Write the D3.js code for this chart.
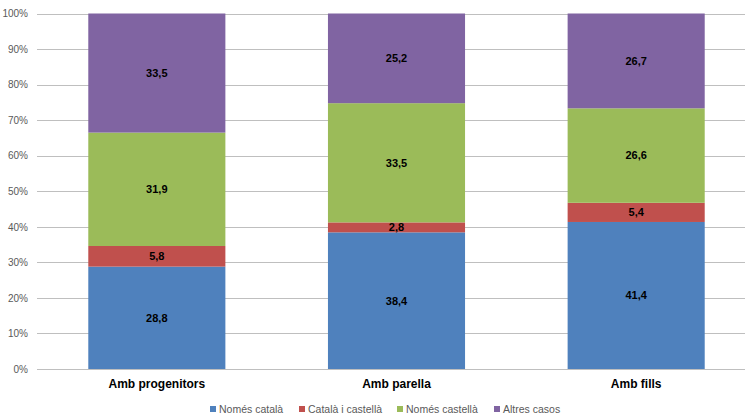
<!DOCTYPE html>
<html><head><meta charset="utf-8">
<script src="https://cdn.jsdelivr.net/npm/d3@7"></script>
<style>body{margin:0;background:#fff}svg{display:block}</style>
</head><body>
<script>
const categories = ["Amb progenitors", "Amb parella", "Amb fills"];
const seriesNames = ["Només català", "Català i castellà", "Només castellà", "Altres casos"];
const nomesCatala = [28.8, 38.4, 41.4];
const catalaCastella = [5.8, 2.8, 5.4];
const nomesCastella = [31.9, 33.5, 26.6];
const altresCasos = [33.5, 25.2, 26.7];
const yTicks = [0, 0.1, 0.2, 0.3, 0.4, 0.5, 0.6, 0.7, 0.8, 0.9, 1];
const colors = ["#4F81BD", "#C0504D", "#9BBB59", "#8064A2"];

const W = 745, H = 415;
const svg = d3.select("body").append("svg").attr("width", W).attr("height", H);
const font = "'Liberation Sans', Arial, sans-serif";

const x = d3.scaleBand().domain(categories).range([37, 756]).paddingInner(0.428).paddingOuter(0.214);
const y = d3.scaleLinear().domain([0, 1]).range([369, 13.5]);

// gridlines
svg.append("g").selectAll("line").data(yTicks).join("line")
  .attr("x1", 37).attr("x2", W)
  .attr("y1", d => Math.round(y(d)) + 0.5).attr("y2", d => Math.round(y(d)) + 0.5)
  .attr("stroke", "#BFBFBF").attr("stroke-width", 1);

// y axis labels
const yAxis = d3.axisLeft(y).tickValues(yTicks).tickSize(0).tickPadding(0)
  .tickFormat(d => Math.round(d * 100) + "%");
const ga = svg.append("g").attr("transform", "translate(28,0)").call(yAxis);
ga.select(".domain").remove();
ga.selectAll("text").attr("font-family", font).attr("font-size", 10).attr("fill", "#595959");

const seriesVals = [nomesCatala, catalaCastella, nomesCastella, altresCasos];
const rows = categories.map((c, i) => {
  const o = {cat: c};
  seriesNames.forEach((s, j) => o[s] = seriesVals[j][i]);
  return o;
});
const stack = d3.stack().keys(seriesNames).offset(d3.stackOffsetExpand);
const stacked = stack(rows);

const g = svg.append("g");
stacked.forEach((layer, j) => {
  g.append("g").selectAll("rect").data(layer).join("rect")
    .attr("x", d => x(d.data.cat))
    .attr("width", x.bandwidth())
    .attr("y", d => y(d[1]))
    .attr("height", d => y(d[0]) - y(d[1]))
    .attr("fill", colors[j]);
  g.append("g").selectAll("text").data(layer).join("text")
    .attr("x", d => x(d.data.cat) + x.bandwidth() / 2)
    .attr("y", d => (y(d[0]) + y(d[1])) / 2)
    .attr("dy", "0.35em")
    .attr("text-anchor", "middle")
    .attr("font-family", font).attr("font-size", 11).attr("font-weight", "bold")
    .attr("fill", "#000")
    .text(d => String(d.data[layer.key]).replace(".", ","));
});

// category labels
const xAxis = d3.axisBottom(x).tickSize(0).tickPadding(0);
const gx = svg.append("g").attr("transform", "translate(0,379)").call(xAxis);
gx.select(".domain").remove();
gx.selectAll("text").attr("font-family", font).attr("font-size", 12).attr("font-weight", "bold").attr("fill", "#000");

// legend
const legendX = [210, 299, 397, 494];
const lg = svg.append("g");
seriesNames.forEach((s, i) => {
  lg.append("rect").attr("x", legendX[i]).attr("y", 406).attr("width", 6).attr("height", 6).attr("fill", colors[i]);
  lg.append("text").attr("x", legendX[i] + 9).attr("y", 412.5)
    .attr("font-family", font).attr("font-size", 10.5).attr("fill", "#595959").text(s);
});
</script>
</body></html>
